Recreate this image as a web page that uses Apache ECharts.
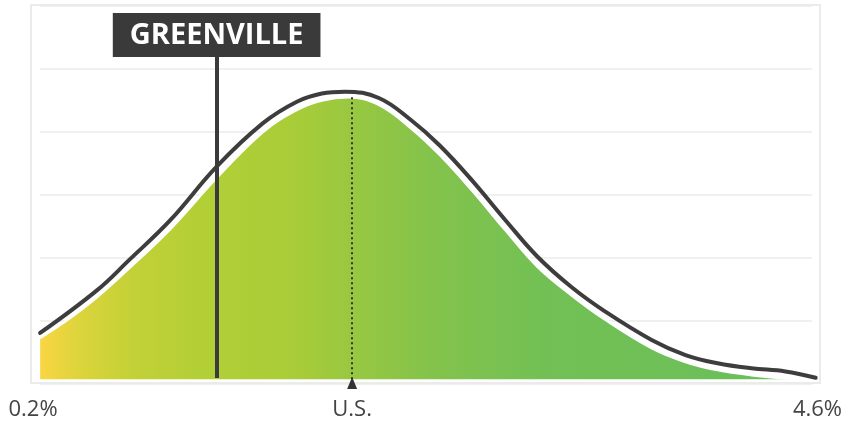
<!DOCTYPE html>
<html>
<head>
<meta charset="utf-8">
<script src="https://cdn.jsdelivr.net/npm/echarts@6/dist/echarts.min.js"></script>
<style>html,body{margin:0;padding:0;background:#fff}#c{width:845px;height:423px}</style>
</head>
<body>
<div id="c"></div>
<script>
// Distribution (filled area)
const fillX = [0.24,0.41,0.56,0.74,0.97,1.23,1.49,1.68,1.82,1.97,2.14,2.32,2.48,2.66,2.85,3.03,3.22,3.41,3.67,3.86,4.04,4.23,4.47];
const fillY = [0.73,1.05,1.38,1.84,2.46,3.27,4.00,4.35,4.50,4.55,4.43,4.06,3.64,3.08,2.44,1.86,1.41,1.02,0.57,0.35,0.22,0.14,0.075];
// Dark outline curve
const lineX = [0.24,0.56,0.74,0.97,1.23,1.49,1.68,1.82,1.95,2.14,2.32,2.48,2.66,2.85,3.03,3.22,3.41,3.67,3.86,4.04,4.23,4.42,4.59];
const lineY = [0.81,1.49,1.97,2.60,3.45,4.14,4.48,4.61,4.64,4.54,4.19,3.79,3.24,2.60,2.02,1.54,1.15,0.70,0.46,0.33,0.25,0.20,0.10];
// Markers
const greenvilleX = 1.23;
const greenvilleName = 'GREENVILLE';
const greenvilleSpan = [0.095, 5.30];
const usX = 1.99;
const usPeak = 4.55;
const baseY = 0.075;
// Axis ticks
const tickValues = [0.2, usX, 4.6];
const tickLabels = ['0.2%', 'U.S.', '4.6%'];

const chart = echarts.init(document.getElementById('c'), null, {renderer: 'canvas'});
const pair = (xs, ys) => xs.map((x, i) => [x, ys[i]]);

chart.setOption({
  animation: false,
  backgroundColor: '#fff',
  textStyle: {fontFamily: 'Open Sans'},
  graphic: [{
    type: 'rect', z: 0, silent: true,
    shape: {x: 31, y: 5, width: 789, height: 378},
    style: {fill: 'none', stroke: '#ebebeb', lineWidth: 2}
  }],
  grid: [
    {left: 33, right: 25, top: 6, bottom: 39},
    {left: 40, right: 33, top: 6, bottom: 39}
  ],
  xAxis: [
    {
      type: 'value', gridIndex: 0, min: 0.2, max: 4.6,
      axisLine: {show: false}, axisTick: {show: false}, splitLine: {show: false},
      axisLabel: {
        show: true, customValues: tickValues, margin: 15,
        fontFamily: 'Open Sans', fontSize: 22, color: '#444',
        formatter: v => {
          let best = 0;
          tickValues.forEach((t, i) => { if (Math.abs(t - v) < Math.abs(tickValues[best] - v)) best = i; });
          return tickLabels[best];
        }
      }
    },
    {type: 'value', gridIndex: 1, min: 0, max: 1, show: false}
  ],
  yAxis: [
    {type: 'value', gridIndex: 0, min: 0, max: 6, show: false},
    {
      type: 'value', gridIndex: 1, min: 0, max: 6, interval: 1,
      axisLine: {show: false}, axisTick: {show: false}, axisLabel: {show: false},
      splitLine: {show: true, lineStyle: {color: '#ebebeb', width: 1.5}}
    }
  ],
  series: [
    {
      type: 'line', xAxisIndex: 0, yAxisIndex: 0, z: 2,
      data: pair(fillX, fillY), smooth: 0.4, showSymbol: false, symbol: 'none',
      lineStyle: {color: '#ffffff', width: 2.5},
      areaStyle: {
        origin: baseY, opacity: 1,
        color: new echarts.graphic.LinearGradient(0, 0, 1, 0, [
          {offset: 0, color: '#fad643'},
          {offset: 0.053, color: '#dcd43b'},
          {offset: 0.12, color: '#c3d137'},
          {offset: 0.21, color: '#b3cf36'},
          {offset: 0.34, color: '#a8cc38'},
          {offset: 0.41, color: '#99c840'},
          {offset: 0.515, color: '#84c34b'},
          {offset: 0.67, color: '#72c055'},
          {offset: 1, color: '#6abf59'}
        ])
      }
    },
    {
      type: 'line', xAxisIndex: 0, yAxisIndex: 0, z: 3,
      data: pair(lineX, lineY), smooth: 0.4, showSymbol: false, symbol: 'none',
      lineStyle: {color: '#3d3d3d', width: 4, cap: 'round'}
    },
    {
      type: 'line', xAxisIndex: 0, yAxisIndex: 0, z: 4, clip: false,
      data: [], symbol: 'none',
      markLine: {
        silent: true, symbol: ['none', 'none'], animation: false,
        data: [
          [
            {coord: [usX, baseY], lineStyle: {color: '#333', width: 2, type: [2, 3]}, label: {show: false}},
            {coord: [usX, usPeak]}
          ],
          [
            {coord: [greenvilleX, greenvilleSpan[0]], lineStyle: {color: '#3a3a3a', width: 4, type: 'solid'},
             label: {
               show: true, position: 'end', distance: -7, formatter: greenvilleName,
               backgroundColor: '#3a3a3a', color: '#fff', fontFamily: 'Open Sans',
               fontWeight: 'bold', fontSize: 29, padding: [7, 17, 6, 17], lineHeight: 31
             }},
            {coord: [greenvilleX, greenvilleSpan[1]]}
          ]
        ]
      },
      markPoint: {
        silent: true, animation: false,
        data: [{coord: [usX, 0], symbol: 'triangle', symbolSize: [10, 12], symbolOffset: [0, -1],
                itemStyle: {color: '#333'}, label: {show: false}}]
      }
    }
  ]
});
</script>
</body>
</html>
